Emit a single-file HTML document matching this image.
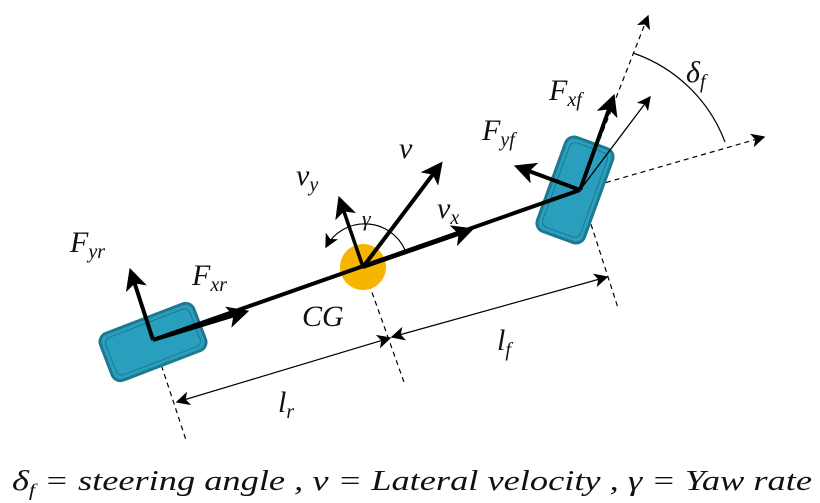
<!DOCTYPE html>
<html><head><meta charset="utf-8"><style>
html,body{margin:0;padding:0;background:#fff;width:820px;height:503px;overflow:hidden}
svg{display:block}
.m{font-family:"Liberation Serif",serif;font-style:italic;fill:#111}
</style></head><body>
<svg width="820" height="503" viewBox="0 0 820 503">
<defs>
<marker id="ahb" viewBox="0 0 10 10" refX="8" refY="5" markerWidth="22" markerHeight="22" orient="auto" markerUnits="userSpaceOnUse"><path d="M0,0 L10,5 L0,10 L2.5,5z" fill="#000"/></marker>
<marker id="ahs" viewBox="0 0 10 10" refX="9" refY="5" markerWidth="14" markerHeight="14" orient="auto" markerUnits="userSpaceOnUse"><path d="M0,0 L10,5 L0,10 L2.5,5z" fill="#000"/></marker>
<marker id="ahr" viewBox="0 0 10 10" refX="1" refY="5" markerWidth="14" markerHeight="14" orient="auto" markerUnits="userSpaceOnUse"><path d="M10,0 L0,5 L10,10 L7.5,5z" fill="#000"/></marker>
</defs>
<g stroke="#000" stroke-width="1.2" stroke-dasharray="5,4" fill="none">
<line x1="153" y1="340" x2="186" y2="440"/>
<line x1="363" y1="267" x2="405" y2="385"/>
<line x1="580" y1="190" x2="618" y2="308"/>
<line x1="580" y1="190" x2="648" y2="16" marker-end="url(#ahs)"/>
<line x1="580" y1="190" x2="764" y2="137" marker-end="url(#ahs)"/>
</g>
<g transform="translate(153,342) rotate(-21)">
<rect x="-50" y="-25" width="100" height="50" rx="9" fill="#2a9fbd" stroke="#1d7891" stroke-width="3"/>
<rect x="-45" y="-20" width="90" height="40" rx="6" fill="none" stroke="#1d7891" stroke-width="1"/>
</g>
<g transform="translate(575,190) rotate(-70)">
<rect x="-50" y="-25" width="100" height="50" rx="9" fill="#2a9fbd" stroke="#1d7891" stroke-width="3"/>
<rect x="-45" y="-20" width="90" height="40" rx="6" fill="none" stroke="#1d7891" stroke-width="1"/>
</g>
<circle cx="363" cy="267" r="23" fill="#f7b500"/>
<line x1="153" y1="340" x2="580" y2="190" stroke="#000" stroke-width="4"/>
<line x1="153" y1="340" x2="131" y2="272" stroke="#000" stroke-width="4" marker-end="url(#ahb)"/>
<line x1="153" y1="340" x2="245" y2="312" stroke="#000" stroke-width="4" marker-end="url(#ahb)"/>
<line x1="580" y1="190" x2="613" y2="98" stroke="#000" stroke-width="4" marker-end="url(#ahb)"/>
<line x1="580" y1="190" x2="518" y2="167" stroke="#000" stroke-width="4" marker-end="url(#ahb)"/>
<line x1="580" y1="190" x2="650" y2="97" stroke="#000" stroke-width="1.3" marker-end="url(#ahs)"/>
<line x1="363" y1="267" x2="440" y2="165" stroke="#000" stroke-width="4" marker-end="url(#ahb)"/>
<line x1="363" y1="267" x2="340" y2="200" stroke="#000" stroke-width="3.5" marker-end="url(#ahb)"/>
<line x1="363" y1="267" x2="470" y2="230" stroke="#000" stroke-width="4" marker-end="url(#ahb)"/>
<path d="M405,250 A44,44 0 0 0 326,247" fill="none" stroke="#000" stroke-width="1.2" marker-end="url(#ahs)"/>
<path d="M633,53 A150,150 0 0 1 725,142" fill="none" stroke="#000" stroke-width="1.2"/>
<line x1="177" y1="402" x2="390" y2="338" stroke="#000" stroke-width="1.2" marker-start="url(#ahr)" marker-end="url(#ahs)"/>
<line x1="392" y1="337" x2="607" y2="277" stroke="#000" stroke-width="1.2" marker-start="url(#ahr)" marker-end="url(#ahs)"/>
<g class="m" font-size="30">
<text x="70" y="252">F<tspan font-size="20" dy="6">yr</tspan></text>
<text x="192" y="285">F<tspan font-size="20" dy="6">xr</tspan></text>
<text x="302" y="326">CG</text>
<text x="296" y="185">v<tspan font-size="20" dy="6">y</tspan></text>
<text x="399" y="158">v</text>
<text x="362" y="226" font-size="22">γ</text>
<text x="437" y="218">v<tspan font-size="20" dy="6">x</tspan></text>
<text x="482" y="140">F<tspan font-size="20" dy="6">yf</tspan></text>
<text x="549" y="100">F<tspan font-size="20" dy="6">xf</tspan></text>
<text x="686" y="82">δ<tspan font-size="20" dy="6">f</tspan></text>
<text x="278" y="412">l<tspan font-size="20" dy="6">r</tspan></text>
<text x="497" y="350">l<tspan font-size="20" dy="6">f</tspan></text>
</g>
<text class="m" x="12" y="490" font-size="29" textLength="800" lengthAdjust="spacingAndGlyphs">δ<tspan font-size="18" dy="6">f</tspan><tspan dy="-6"> = steering angle , v = Lateral velocity , γ = Yaw rate</tspan></text>
</svg>
</body></html>
